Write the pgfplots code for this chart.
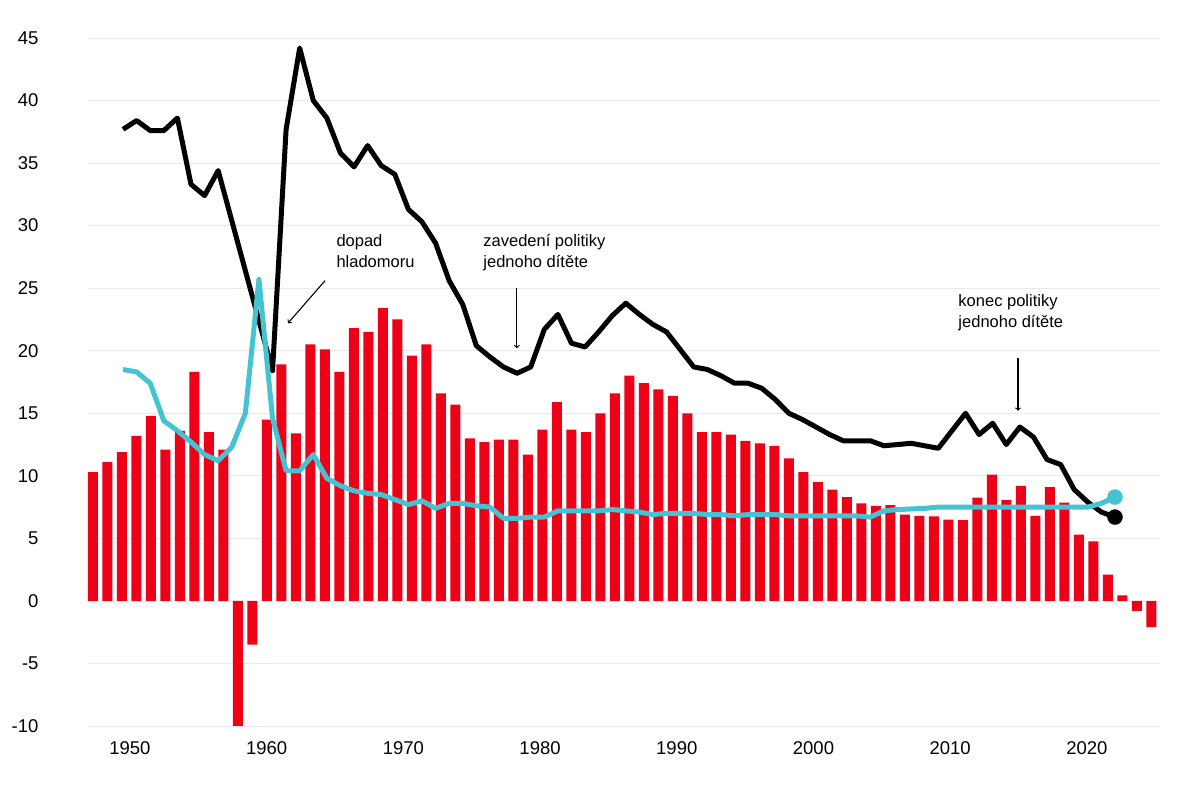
\documentclass[border=0pt]{standalone}
\usepackage{pgfplots}
\pgfplotsset{compat=1.18}
\usepackage{fontspec}
\setmainfont{Liberation Sans}
\definecolor{rd}{HTML}{EE0016}
\definecolor{cy}{HTML}{45C3D2}
\definecolor{gr}{HTML}{E9E9E9}
\begin{document}
\begin{tikzpicture}
\pgfplotsset{base/.style={scale only axis,width=1072pt,height=688pt,ymin=-10,ymax=45,clip=false}}
% grid and ticks
\begin{axis}[base,name=ax,xmin=1946.93,xmax=2025.35,axis line style={draw=none},
  ytick={-10,-5,...,45},xtick={1950,1960,...,2020},major tick length=0pt,
  ymajorgrids,grid style={gr,line width=0.8pt},
  /pgf/number format/assume math mode=true,/pgf/number format/1000 sep={},
  tick label style={font=\fontsize{18.5}{20}\selectfont},
  yticklabel style={anchor=east,xshift=-46pt},
  xticklabel style={yshift=-12pt}]
\node[anchor=north west,align=left,font=\fontsize{16.5}{21.5}\selectfont] at (axis cs:1964.85,29.6) {dopad\\hladomoru};
\draw[->,line width=1.1pt] (axis cs:1964.27,25.6) -- (axis cs:1961.56,22.2);
\node[anchor=north west,align=left,font=\fontsize{16.5}{21.5}\selectfont] at (axis cs:1975.6,29.6) {zavedení politiky\\jednoho dítěte};
\draw[->,line width=1.1pt] (axis cs:1978.3,25.0) -- (axis cs:1978.3,20.2);
\node[anchor=north west,align=left,font=\fontsize{16.5}{21.5}\selectfont] at (axis cs:2010.35,24.8) {konec politiky\\jednoho dítěte};
\draw[->,line width=1.1pt] (axis cs:2014.96,19.4) -- (axis cs:2014.96,15.2);
\end{axis}
% bars
\begin{axis}[base,xmin=-0.34,xmax=73.6,axis lines=none,ybar,bar width=10pt,bar shift=0pt]
\addplot[fill=rd,draw=none] coordinates {
(0,10.3)(1,11.1)(2,11.9)(3,13.2)(4,14.8)(5,12.1)(6,13.6)(7,18.3)(8,13.5)(9,12.1)
(10,-10)(11,-3.5)(12,14.5)(13,18.9)(14,13.4)(15,20.5)(16,20.1)(17,18.3)(18,21.8)(19,21.5)
(20,23.4)(21,22.5)(22,19.6)(23,20.5)(24,16.6)(25,15.7)(26,13.0)(27,12.7)(28,12.9)(29,12.9)
(30,11.7)(31,13.7)(32,15.9)(33,13.7)(34,13.5)(35,15.0)(36,16.6)(37,18.0)(38,17.4)(39,16.9)
(40,16.4)(41,15.0)(42,13.5)(43,13.5)(44,13.3)(45,12.8)(46,12.6)(47,12.4)(48,11.4)(49,10.3)
(50,9.5)(51,8.9)(52,8.3)(53,7.8)(54,7.6)(55,7.65)(56,6.9)(57,6.8)(58,6.75)(59,6.5)
(60,6.45)(61,8.25)(62,10.1)(63,8.05)(64,9.2)(65,6.8)(66,9.1)(67,7.85)(68,5.3)(69,4.75)
(70,2.1)(71,0.45)(72,-0.8)(73,-2.1)};
\end{axis}
% lines
\begin{axis}[base,xmin=1946.42,xmax=2025.31,axis lines=none]
\addplot[black,line width=5pt,line join=round,mark=none] coordinates {
(1949,37.7)(1950,38.4)(1951,37.6)(1952,37.6)(1953,38.6)(1954,33.3)(1955,32.4)(1956,34.4)(1957,30.4)(1958,26.4)
(1959,22.4)(1960,18.4)(1961,37.7)(1962,44.2)(1963,40.0)(1964,38.6)(1965,35.8)(1966,34.7)(1967,36.4)(1968,34.8)
(1969,34.1)(1970,31.3)(1971,30.3)(1972,28.6)(1973,25.6)(1974,23.7)(1975,20.4)(1976,19.5)(1977,18.7)(1978,18.2)
(1979,18.7)(1980,21.7)(1981,22.9)(1982,20.6)(1983,20.3)(1984,21.5)(1985,22.8)(1986,23.8)(1987,22.9)(1988,22.1)
(1989,21.5)(1990,20.1)(1991,18.7)(1992,18.5)(1993,18.0)(1994,17.4)(1995,17.4)(1996,17.0)(1997,16.1)(1998,15.0)
(1999,14.5)(2000,13.9)(2001,13.3)(2002,12.8)(2003,12.8)(2004,12.8)(2005,12.4)(2006,12.5)(2007,12.6)(2008,12.4)
(2009,12.2)(2010,13.6)(2011,15.0)(2012,13.3)(2013,14.2)(2014,12.5)(2015,13.9)(2016,13.1)(2017,11.3)(2018,10.9)
(2019,8.9)(2020,7.9)(2021,7.1)(2022,6.7)};
\addplot[black,only marks,mark=*,mark size=7.5pt] coordinates {(2022,6.7)};
\addplot[cy,line width=5pt,line join=round,mark=none] coordinates {
(1949,18.5)(1950,18.3)(1951,17.4)(1952,14.4)(1953,13.6)(1954,12.7)(1955,11.7)(1956,11.2)(1957,12.3)(1958,15.0)
(1959,25.7)(1960,14.6)(1961,10.4)(1962,10.4)(1963,11.7)(1964,9.8)(1965,9.2)(1966,8.8)(1967,8.6)(1968,8.5)
(1969,8.1)(1970,7.7)(1971,8.0)(1972,7.4)(1973,7.8)(1974,7.8)(1975,7.6)(1976,7.5)(1977,6.6)(1978,6.6)
(1979,6.7)(1980,6.7)(1981,7.2)(1982,7.2)(1983,7.2)(1984,7.2)(1985,7.3)(1986,7.2)(1987,7.1)(1988,6.9)
(1989,7.0)(1990,7.0)(1991,7.0)(1992,6.9)(1993,6.9)(1994,6.8)(1995,6.9)(1996,6.9)(1997,6.9)(1998,6.8)
(1999,6.8)(2000,6.8)(2001,6.8)(2002,6.8)(2003,6.8)(2004,6.7)(2005,7.2)(2006,7.3)(2007,7.35)(2008,7.4)
(2009,7.5)(2010,7.5)(2011,7.5)(2012,7.5)(2013,7.5)(2014,7.5)(2015,7.5)(2016,7.5)(2017,7.5)(2018,7.5)
(2019,7.5)(2020,7.5)(2021,7.8)(2022,8.3)};
\addplot[cy,only marks,mark=*,mark size=7.5pt] coordinates {(2022,8.3)};
\end{axis}
\path[use as bounding box] ([shift={(-88pt,-73pt)}]ax.south west) rectangle ([shift={(40pt,38pt)}]ax.north east);
\end{tikzpicture}
\end{document}
